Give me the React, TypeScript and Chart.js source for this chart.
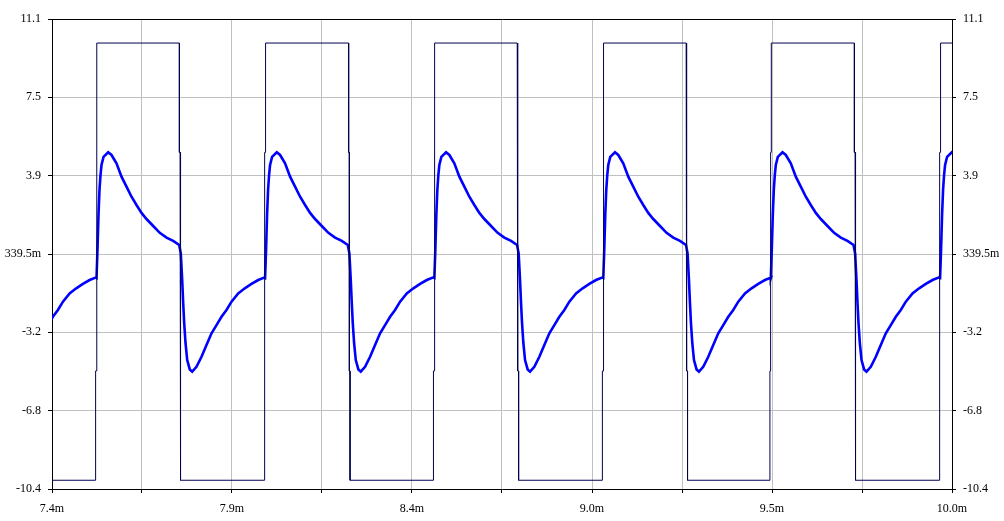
import React, { useEffect, useRef } from "react";
import { Chart, registerables } from "chart.js";

Chart.register(...registerables);

// Square-wave edges (ms)
const cycleStarts = [7.043, 7.53, 8.017, 8.506, 8.994, 9.478, 9.967];
const fallTimes = [7.282, 7.768, 8.257, 8.744, 9.232, 9.718, 10.206];
const squareHigh = 10;
const squareLow = -10;
const edgeStep = 5;

// Response curve, one cycle: offset from rising edge (ms) and value (V)
const responseOffsets = [
  -0.0014, 0.0014, 0.0043, 0.0072, 0.0101, 0.013, 0.0188, 0.0324, 0.0419, 0.0563,
  0.0708, 0.0852, 0.0997, 0.1141, 0.1286, 0.143, 0.1624, 0.1814, 0.2008, 0.2201,
  0.2375, 0.2421, 0.2461, 0.249, 0.2519, 0.2557, 0.2606, 0.2681, 0.275, 0.2874,
  0.3019, 0.3163, 0.3308, 0.3452, 0.3597, 0.3741, 0.3886, 0.4079, 0.427, 0.4463,
  0.4657, 0.483,
];
const responseValues = [
  -0.75, 0.53, 2.13, 3.28, 3.96, 4.42, 4.79, 5.0, 4.88, 4.5,
  3.89, 3.43, 2.97, 2.59, 2.23, 1.95, 1.63, 1.32, 1.1, 0.95,
  0.76, 0.38, -0.84, -1.89, -2.81, -3.72, -4.5, -4.93, -5.03, -4.81,
  -4.35, -3.81, -3.28, -2.9, -2.52, -2.21, -1.83, -1.45, -1.22, -1.02,
  -0.84, -0.73,
];

const xTickValues = [7.4, 7.66, 7.92, 8.18, 8.44, 8.7, 8.96, 9.22, 9.48, 9.74, 10.0];
const xTickLabels = ["7.4m", "", "7.9m", "", "8.4m", "", "9.0m", "", "9.5m", "", "10.0m"];
const yTickValues = [-10.4, -6.8167, -3.2333, 0.35, 3.9333, 7.5167, 11.1];
const yTickLabels = ["-10.4", "-6.8", "-3.2", "339.5m", "3.9", "7.5", "11.1"];

const FONT = { family: "'Times New Roman', 'Liberation Serif', serif", size: 12 };

function buildSquare() {
  const pts: { x: number; y: number }[] = [{ x: 7.0, y: squareLow }];
  const d = 0.002;
  for (let i = 0; i < cycleStarts.length; i++) {
    const r = cycleStarts[i];
    pts.push({ x: r - 2 * d, y: squareLow });
    pts.push({ x: r - 2 * d, y: -edgeStep });
    pts.push({ x: r - d, y: -edgeStep });
    pts.push({ x: r - d, y: edgeStep });
    pts.push({ x: r, y: edgeStep });
    pts.push({ x: r, y: squareHigh });
    const f = fallTimes[i];
    pts.push({ x: f, y: squareHigh });
    pts.push({ x: f, y: edgeStep });
    pts.push({ x: f + d, y: edgeStep });
    pts.push({ x: f + d, y: -edgeStep });
    pts.push({ x: f + 2 * d, y: -edgeStep });
    pts.push({ x: f + 2 * d, y: squareLow });
  }
  return pts;
}

function buildResponse() {
  const pts: { x: number; y: number }[] = [];
  for (const c of cycleStarts) {
    for (let i = 0; i < responseOffsets.length; i++) {
      pts.push({ x: c + responseOffsets[i], y: responseValues[i] });
    }
  }
  return pts;
}

const frame = {
  id: "frame",
  afterDraw(chart: any) {
    const { ctx, chartArea } = chart;
    ctx.save();
    ctx.strokeStyle = "#000";
    ctx.lineWidth = 1;
    ctx.beginPath();
    ctx.moveTo(chartArea.left, Math.round(chartArea.top) + 0.5);
    ctx.lineTo(chartArea.right + 1, Math.round(chartArea.top) + 0.5);
    ctx.stroke();
    ctx.restore();
  },
};

export default function App() {
  const ref = useRef<HTMLCanvasElement>(null);
  useEffect(() => {
    if (!ref.current) return;
    const yCommon = (pos: "left" | "right") => ({
      type: "linear" as const,
      position: pos,
      min: -10.4,
      max: 11.1,
      afterBuildTicks: (s: any) => {
        s.ticks = yTickValues.map((v) => ({ value: v }));
      },
      afterFit: (s: any) => {
        s.width = 52;
      },
      ticks: {
        callback: (_v: any, i: number) => yTickLabels[i],
        padding: 7,
        color: "#000",
        font: FONT,
      },
      grid: {
        color: "#C0C0C0",
        tickColor: "#000",
        tickLength: 4,
        drawOnChartArea: pos === "left",
      },
      border: { color: "#000", width: 1 },
    });
    const chart = new Chart(ref.current, {
      type: "line",
      data: {
        datasets: [
          {
            data: buildSquare(),
            borderColor: "#000050",
            borderWidth: 1,
            pointRadius: 0,
            tension: 0,
            yAxisID: "y",
          },
          {
            data: buildResponse(),
            borderColor: "#0000FF",
            borderWidth: 2.6,
            pointRadius: 0,
            tension: 0,
            yAxisID: "y",
          },
        ],
      },
      options: {
        animation: false,
        responsive: false,
        devicePixelRatio: 1,
        parsing: false as any,
        layout: { padding: { top: 19, left: 0, right: 0, bottom: 0 } },
        plugins: { legend: { display: false }, tooltip: { enabled: false } },
        scales: {
          x: {
            type: "linear",
            min: 7.4,
            max: 10.0,
            afterBuildTicks: (s: any) => {
              s.ticks = xTickValues.map((v) => ({ value: v }));
            },
            afterFit: (s: any) => {
              s.height = 32;
            },
            ticks: {
              autoSkip: false,
              maxRotation: 0,
              callback: (_v: any, i: number) => xTickLabels[i],
              padding: 9,
              color: "#000",
              font: FONT,
            },
            grid: { color: "#C0C0C0", tickColor: "#000", tickLength: 4 },
            border: { color: "#000", width: 1 },
          },
          y: yCommon("left"),
          y2: yCommon("right"),
        },
      },
      plugins: [frame],
    });
    return () => chart.destroy();
  }, []);
  return (
    <div style={{ position: "fixed", left: 0, top: 0, width: 1004, height: 521, background: "#fff" }}>
      <canvas ref={ref} width={1004} height={521} style={{ display: "block" }} />
    </div>
  );
}
